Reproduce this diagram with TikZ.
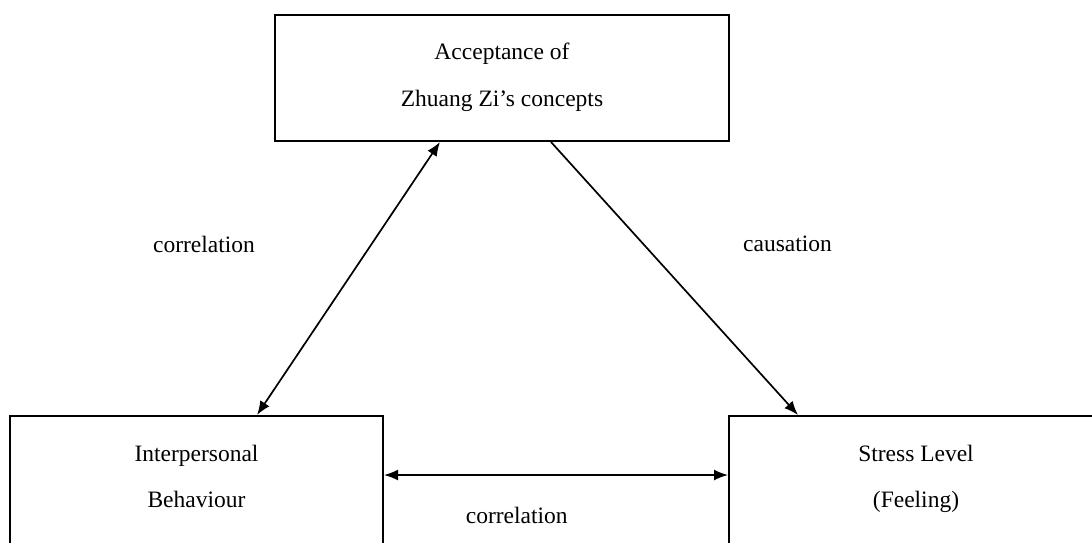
\documentclass[tikz,border=0pt]{standalone}
\usepackage{fontspec}
\setmainfont{Liberation Serif}
\usetikzlibrary{arrows.meta}
\begin{document}
\begin{tikzpicture}[x=1pt,y=-1pt,
  box/.style={draw, line width=2pt, inner sep=0pt, fill=none},
  txt/.style={anchor=base, inner sep=0pt, font=\fontsize{23.5}{28}\selectfont},
  tip/.tip={Latex[length=14pt,width=11pt]},
  link/.style={line width=1.7pt, -tip},
  both/.style={line width=1.7pt, tip-tip}]
  \useasboundingbox (0,0) rectangle (1092,542);
  \clip (0,0) rectangle (1092,542);
  \fill[white] (0,0) rectangle (1092,542);

  % boxes
  \node[box, minimum width=454pt, minimum height=126pt] (acc) at (502,78) {};
  \node[box, minimum width=373pt, minimum height=184pt] (ib) at (196.5,508) {};
  \node[box, minimum width=374pt, minimum height=184pt] (sl) at (916,508) {};

  % box texts
  \node[txt] (acc1) at (502,59) {Acceptance of};
  \node[txt] (acc2) at (502,106) {Zhuang Zi’s concepts};
  \node[txt] (ib1) at (196.5,461) {Interpersonal};
  \node[txt] (ib2) at (196.5,507) {Behaviour};
  \node[txt] (sl1) at (916,461) {Stress Level};
  \node[txt] (sl2) at (916,507) {(Feeling)};

  % connectors
  \draw[both] ([xshift=-62pt]acc.south) -- ([xshift=60.5pt]ib.north);
  \draw[link] ([xshift=49pt]acc.south) -- ([xshift=-118pt]sl.north);
  \draw[both] ([yshift=-60pt]ib.north east) -- ([yshift=-60pt]sl.north west);

  % labels
  \node[txt] (lab1) at (204,252) {correlation};
  \node[txt] (lab2) at (787.5,251) {causation};
  \node[txt] (lab3) at (516.7,523) {correlation};
\end{tikzpicture}
\end{document}
